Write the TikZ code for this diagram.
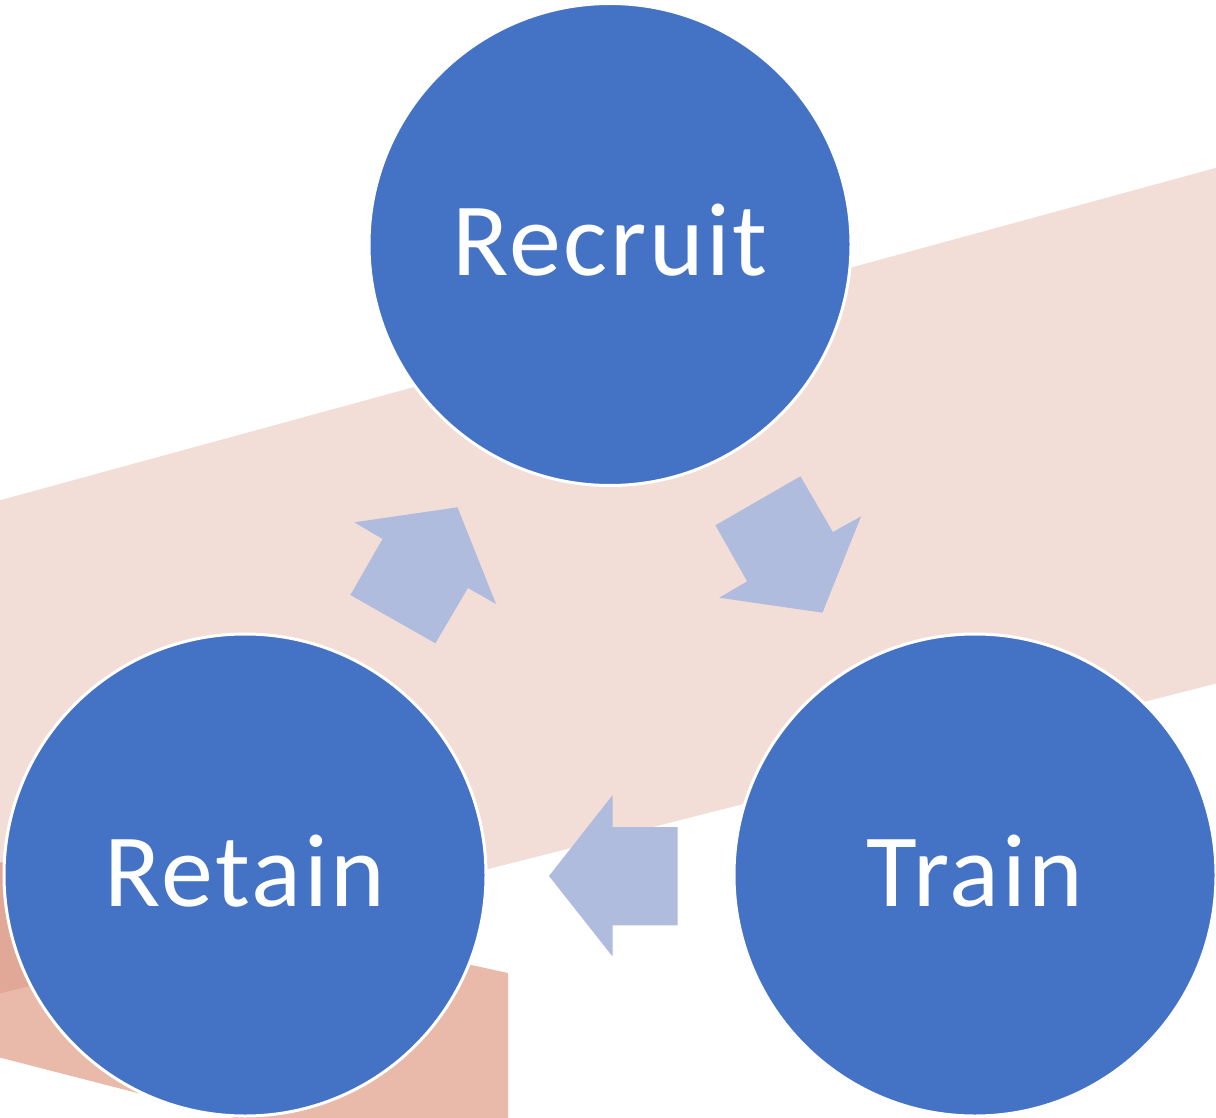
\documentclass[tikz,border=0pt]{standalone}
\usepackage{fontspec}
\setmainfont{Carlito}[LetterSpace=2.5]
\definecolor{stagefill}{HTML}{4472C4}
\definecolor{flowfill}{HTML}{AFBCDE}
\definecolor{bandfill}{RGB}{207,119,95}
\definecolor{lowband}{RGB}{233,185,170}
\tikzset{
  stage/.style={circle, fill=stagefill, draw=white, line width=3pt,
    minimum size=482pt, inner sep=0pt, text=white, text depth=9pt,
    font=\fontsize{104}{120}\selectfont},
  flow/.style={fill=flowfill, draw=none},
}
\begin{document}
\begin{tikzpicture}[x=1pt,y=-1pt]
  \useasboundingbox (0,0) rectangle (1216,1118);
  \begin{scope}
    \clip (0,0) rectangle (1216,1118);
    % lower tilted band
    \fill[lowband] (-10,860) -- (508,973) -- (508,1130) -- (281,1130) -- (-10,1055) -- cycle;
    % wide translucent band behind the cycle
    \fill[bandfill, opacity=0.25] (-10,503) -- (1230,164) -- (1230,680) -- (-10,996) -- cycle;
  \end{scope}

  % stages
  \node[stage] (recruit) at (610,244.5) {Recruit};
  \node[stage] (retain)  at (245,875) {Retain};
  \node[stage] (train)   at (975,875) {Train};

  % block arrows between stages
  \fill[flow] (800.4,476.3) -- (832.9,532) -- (861.1,516.3) -- (822.5,612.7)
    -- (719.3,597.7) -- (747.1,581.3) -- (715.4,525.3) -- cycle;
  \fill[flow] (549,876) -- (612.7,795) -- (612.7,827) -- (677.7,827)
    -- (677.7,925.3) -- (612.7,925.3) -- (612.7,956.7) -- cycle;
  \fill[flow] (457.5,507.3) -- (496,604) -- (467.9,588) -- (435.4,643.3)
    -- (350.4,595) -- (382.5,539) -- (354.3,522.3) -- cycle;
\end{tikzpicture}
\end{document}
